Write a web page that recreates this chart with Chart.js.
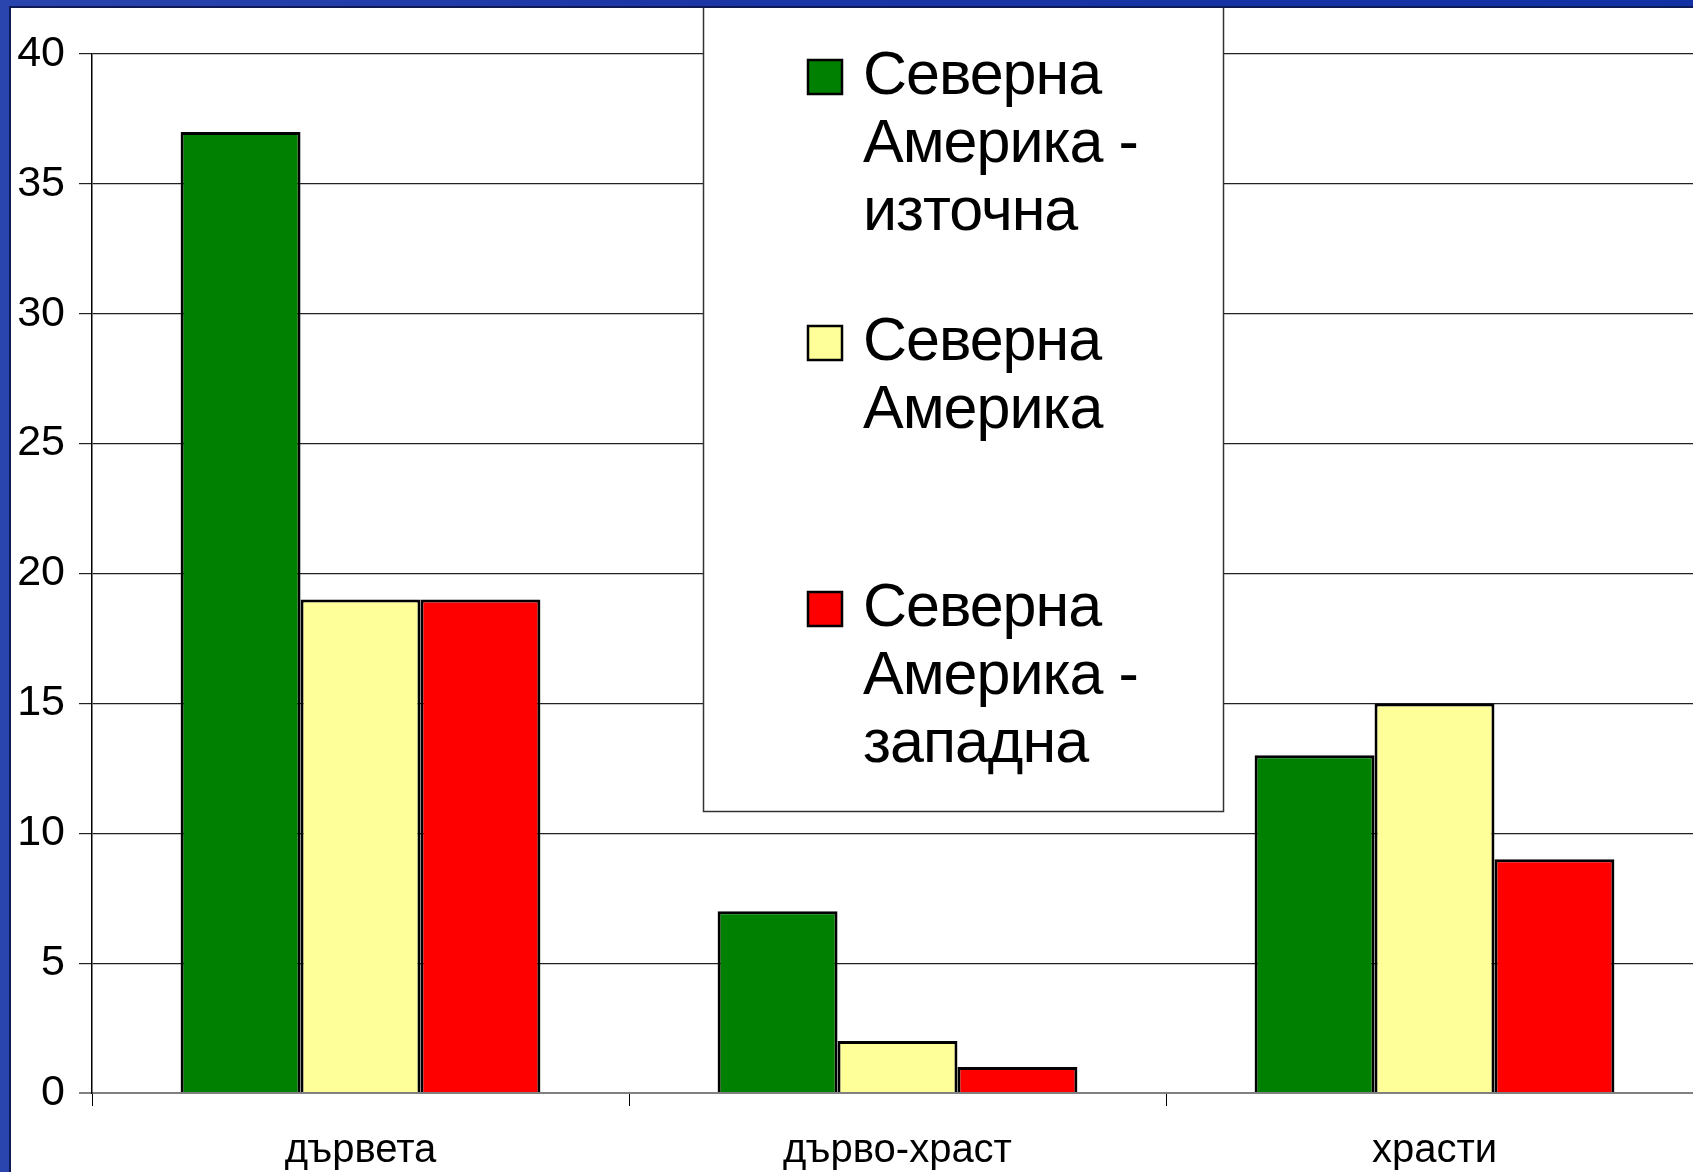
<!DOCTYPE html>
<html>
<head>
<meta charset="utf-8">
<script src="https://cdn.jsdelivr.net/npm/chart.js@4.4.0/dist/chart.umd.min.js"></script>
<style>
  html, body { margin: 0; padding: 0; width: 1693px; height: 1172px; overflow: hidden; }
  body { background: linear-gradient(90deg, #2a45ad 0%, #1c36a6 40%, #1131a4 100%); position: relative; }
  #wrap { position: absolute; left: 9px; top: 6px; width: 1710px; height: 1170px;
          background: #fff; border-top: 2px solid #0d1a55; border-left: 2px solid #0d1a55; }
  canvas { display: block; }
</style>
</head>
<body>
<div id="wrap"><canvas id="c" width="1692" height="1165"></canvas></div>
<script>
const categories = ['дървета', 'дърво-храст', 'храсти'];
const seriesNames = ['Северна Америка - източна', 'Северна Америка', 'Северна Америка - западна'];
const eastValues = [37, 7, 13];
const northValues = [19, 2, 15];
const westValues = [19, 1, 9];
const seriesColors = ['#008000', '#FFFF99', '#FF0000'];
const yMin = 0, yMax = 40, yStep = 5;

const FONT = '"Liberation Sans", Arial, sans-serif';

const legendPlugin = {
  id: 'boxLegend',
  afterDraw(chart) {
    const ctx = chart.ctx;
    ctx.save();
    const bx = 692, by = -4, bw = 520, bh = 807;
    ctx.fillStyle = '#ffffff';
    ctx.fillRect(bx, by, bw, bh);
    ctx.strokeStyle = '#333333';
    ctx.lineWidth = 1.5;
    ctx.strokeRect(bx + 0.5, by + 0.5, bw, bh);
    ctx.font = '61px ' + FONT;
    if ('letterSpacing' in ctx) ctx.letterSpacing = '-1px';
    ctx.textBaseline = 'middle';
    ctx.textAlign = 'left';
    const maxW = 345;
    chart.data.datasets.forEach((ds, i) => {
      const y0 = 69 + i * 266;
      ctx.fillStyle = ds.backgroundColor;
      ctx.fillRect(797, y0 - 17, 34, 34);
      ctx.strokeStyle = '#000';
      ctx.lineWidth = 2.5;
      ctx.strokeRect(797, y0 - 17, 34, 34);
      const words = ds.label.split(' ');
      const lines = [];
      let cur = '';
      words.forEach(w => {
        const test = cur ? cur + ' ' + w : w;
        if (cur && ctx.measureText(test).width > maxW) { lines.push(cur); cur = w; }
        else cur = test;
      });
      if (cur) lines.push(cur);
      ctx.fillStyle = '#000';
      lines.forEach((ln, k) => ctx.fillText(ln, 852, y0 + k * 68));
    });
    ctx.restore();
  }
};

new Chart(document.getElementById('c'), {
  type: 'bar',
  data: {
    labels: categories,
    datasets: [
      { label: seriesNames[0], data: eastValues, backgroundColor: seriesColors[0] },
      { label: seriesNames[1], data: northValues, backgroundColor: seriesColors[1] },
      { label: seriesNames[2], data: westValues, backgroundColor: seriesColors[2] }
    ]
  },
  options: {
    responsive: false,
    animation: false,
    devicePixelRatio: 1,
    layout: { padding: { top: 46, right: 0, bottom: 0, left: 0 } },
    datasets: {
      bar: { borderColor: '#000', borderWidth: 3, categoryPercentage: 0.67, barPercentage: 1.0 }
    },
    plugins: {
      legend: { display: false },
      tooltip: { enabled: false },
      title: { display: false }
    },
    scales: {
      x: {
        offset: true,
        afterFit(scale) { scale.height = 80; },
        grid: { drawOnChartArea: false, drawTicks: true, tickLength: 13, color: '#000', lineWidth: 1, offset: true },
        border: { color: '#808080', width: 2 },
        ticks: { color: '#000', font: { family: FONT, size: 40 }, padding: 21, maxRotation: 0 }
      },
      y: {
        min: yMin, max: yMax,
        afterFit(scale) { scale.width = 81; },
        grid: {
          color: ctx => (ctx.tick && ctx.tick.value === 0) ? '#808080' : '#222',
          lineWidth: ctx => (ctx.tick && ctx.tick.value === 0) ? 2 : 1.2,
          tickLength: 13
        },
        border: { color: '#000', width: 1.5 },
        ticks: { stepSize: yStep, color: '#000', font: { family: FONT, size: 43 }, padding: 14 }
      }
    }
  },
  plugins: [legendPlugin]
});
</script>
</body>
</html>
